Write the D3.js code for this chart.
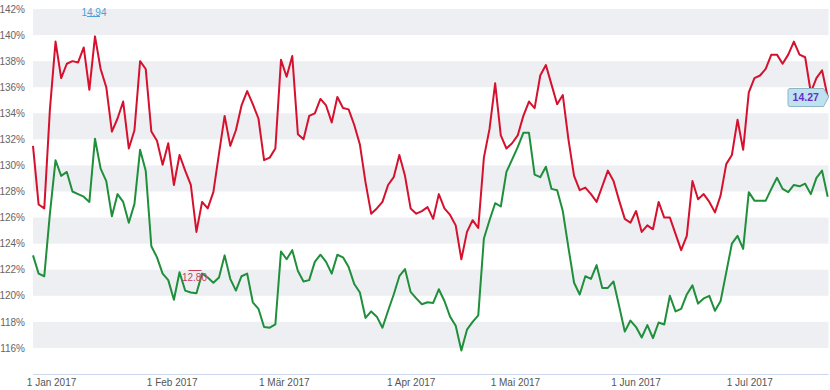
<!DOCTYPE html>
<html>
<head>
<meta charset="utf-8">
<script src="https://cdn.jsdelivr.net/npm/d3@7"></script>
<style>
  html, body { margin: 0; padding: 0; background: #fff; }
  svg { display: block; }
  text { font-family: "Liberation Sans", Arial, sans-serif; }
</style>
</head>
<body>
<svg id="chart" width="830" height="390"></svg>
<script>
// ---- data ----
const redSeries = [
  131.5,127.0,126.7,134.3,139.5,136.7,137.8,138.0,137.9,139.05,
  135.8,139.9,137.4,136.0,132.6,133.6,134.9,131.3,132.7,138.0,
  137.4,132.6,131.9,130.05,131.7,128.5,130.8,129.6,128.5,124.9,
  127.2,126.7,127.95,130.9,133.8,131.5,132.7,134.6,135.7,134.7,
  133.6,130.4,130.6,131.3,138.1,136.8,138.4,132.4,132.0,133.8,
  134.0,135.1,134.6,133.3,135.25,134.4,134.3,133.1,131.6,128.7,
  126.3,126.7,127.2,128.5,129.1,130.8,129.2,126.7,126.3,126.5,
  126.8,125.9,127.8,126.7,126.2,125.4,122.8,124.9,125.8,125.2,
  130.6,132.8,136.3,132.3,131.3,131.7,132.3,133.8,134.9,134.4,
  136.9,137.7,136.2,134.7,135.4,132.0,129.2,128.1,128.3,127.8,
  127.2,128.4,129.6,128.8,127.3,125.9,125.6,126.5,124.9,125.4,
  125.1,127.2,126.0,126.0,124.75,123.5,124.6,128.8,127.4,127.8,
  127.2,126.4,127.7,130.1,130.8,133.5,131.2,135.6,136.7,136.9,
  137.4,138.5,138.5,137.8,138.5,139.5,138.5,138.3,135.6,136.7,
  137.3,135.25
];
const greenSeries = [
  123.1,121.7,121.5,126.3,130.4,129.2,129.5,128.0,127.8,127.6,
  127.2,132.05,129.75,128.8,126.1,127.8,127.2,125.6,127.05,131.2,
  129.6,123.8,122.95,121.7,121.2,119.7,121.8,120.4,120.25,120.2,
  121.7,121.4,121.0,121.4,123.1,121.3,120.4,121.5,121.7,119.5,
  119.0,117.6,117.55,117.8,123.4,122.8,123.5,121.9,121.1,121.2,
  122.6,123.15,122.6,121.7,123.15,122.95,122.2,120.9,120.25,118.3,
  118.8,118.4,117.55,118.85,120.1,121.5,122.05,120.3,119.8,119.35,
  119.5,119.45,120.5,119.6,118.4,117.7,115.8,117.4,118.0,118.5,
  124.4,125.8,127.1,126.85,129.5,130.45,131.4,132.5,132.5,129.3,
  129.1,129.9,128.2,128.1,126.5,123.7,121.0,120.1,121.5,121.3,
  122.35,120.6,120.6,121.1,119.2,117.25,118.1,117.6,116.8,117.75,
  116.75,117.95,117.8,120.0,118.8,119.0,120.1,120.8,119.4,119.8,
  120.0,118.85,119.6,121.8,124.0,124.6,123.6,127.95,127.3,127.3,
  127.3,128.2,129.05,128.2,127.95,128.5,128.4,128.6,127.8,129.05,
  129.6,127.6
];
const yTicks = [116,118,120,122,124,126,128,130,132,134,136,138,140,142];
const xTickLabels = ["1 Jan 2017","1 Feb 2017","1 Mär 2017","1 Apr 2017","1 Mai 2017","1 Jun 2017","1 Jul 2017"];
const xTickIndex = [3.2, 24.6, 44.5, 67, 85.5, 106.9, 127.1];
const maxFlag = { index: 11, label: "14.94" };
const minFlag = { index: 29, label: "12.80" };
const lastLabel = "14.27";

// ---- layout ----
(function () {
const svg = d3.select("#chart");
const pLeft = 33, pRight = 827.7, pTop = 9, pBottom = 374;
const x = d3.scaleLinear().domain([0, redSeries.length - 1]).range([pLeft, pRight]);
const y = d3.scaleLinear().domain([114, 142]).range([pBottom, pTop]);

// alternating bands
const bandStarts = yTicks.filter(v => v % 4 === 0);
svg.append("g").selectAll("rect").data(bandStarts).join("rect")
  .attr("x", pLeft).attr("width", 828.5 - pLeft)
  .attr("y", d => y(d + 2)).attr("height", d => y(d) - y(d + 2))
  .attr("fill", "#eeeff2");

// y axis labels
const yAxis = d3.axisLeft(y).tickValues(yTicks).tickSize(0).tickPadding(0)
  .tickFormat(d => d + "%");
const gy = svg.append("g").attr("transform", "translate(25,0)").call(yAxis);
gy.select(".domain").remove();
gy.selectAll("text").attr("fill", "#666").style("font-size", "10px")
  .style("font-family", '"Liberation Sans", Arial, sans-serif');

// x axis
const xAxis = d3.axisBottom(x).tickValues(xTickIndex).tickSize(0).tickPadding(5)
  .tickFormat((d, i) => xTickLabels[i]);
const gx = svg.append("g").attr("transform", `translate(0,${pBottom})`).call(xAxis);
gx.select(".domain").attr("stroke", "#ccd6eb").attr("d", `M${pLeft},0.5H828.5`);
gx.selectAll("text").attr("fill", "#555").style("font-size", "10px")
  .style("font-family", '"Liberation Sans", Arial, sans-serif');

// lines
const line = d3.line().x((d, i) => x(i)).y(d => y(d));
svg.append("path").datum(greenSeries).attr("d", line)
  .attr("fill", "none").attr("stroke", "#1f8f3c").attr("stroke-width", 2)
  .attr("stroke-linejoin", "round");
svg.append("path").datum(redSeries).attr("d", line)
  .attr("fill", "none").attr("stroke", "#d5112e").attr("stroke-width", 2)
  .attr("stroke-linejoin", "round");

// max flag
const mx = x(maxFlag.index) - 1;
svg.append("text").attr("x", mx).attr("y", 15.5).attr("text-anchor", "middle")
  .attr("fill", "#4aa0d8").style("font-size", "10px").text(maxFlag.label);
svg.append("line").attr("x1", mx - 7).attr("x2", mx + 6).attr("y1", 16.5).attr("y2", 16.5)
  .attr("stroke", "#4aa0d8").attr("stroke-width", 1);

// min flag
const nx = x(minFlag.index) - 2;
svg.append("line").attr("x1", nx - 6).attr("x2", nx + 7).attr("y1", 270.5).attr("y2", 270.5)
  .attr("stroke", "#c8405c").attr("stroke-width", 1);
svg.append("text").attr("x", nx).attr("y", 281).attr("text-anchor", "middle")
  .attr("fill", "#c8405c").style("font-size", "10px").text(minFlag.label);

// last value label
const lx = x(redSeries.length - 1), ly = y(redSeries[redSeries.length - 1]);
const bx0 = 788, bx1 = 823.5, by0 = ly - 8.5, by1 = ly + 9.5;
svg.append("path")
  .attr("d", `M${bx0 + 2},${by0}H${bx1}L${lx + 1},${ly}L${bx1},${by1}H${bx0 + 2}Q${bx0},${by1} ${bx0},${by1 - 2}V${by0 + 2}Q${bx0},${by0} ${bx0 + 2},${by0}Z`)
  .attr("fill", "#bfe2f0").attr("stroke", "#8fb4c4").attr("stroke-width", 1);
svg.append("text").attr("x", (bx0 + bx1) / 2).attr("y", ly + 4.5).attr("text-anchor", "middle")
  .attr("fill", "#6a2ccc").style("font-size", "10.5px").style("font-weight", "bold").text(lastLabel);
})();
</script>
</body>
</html>
